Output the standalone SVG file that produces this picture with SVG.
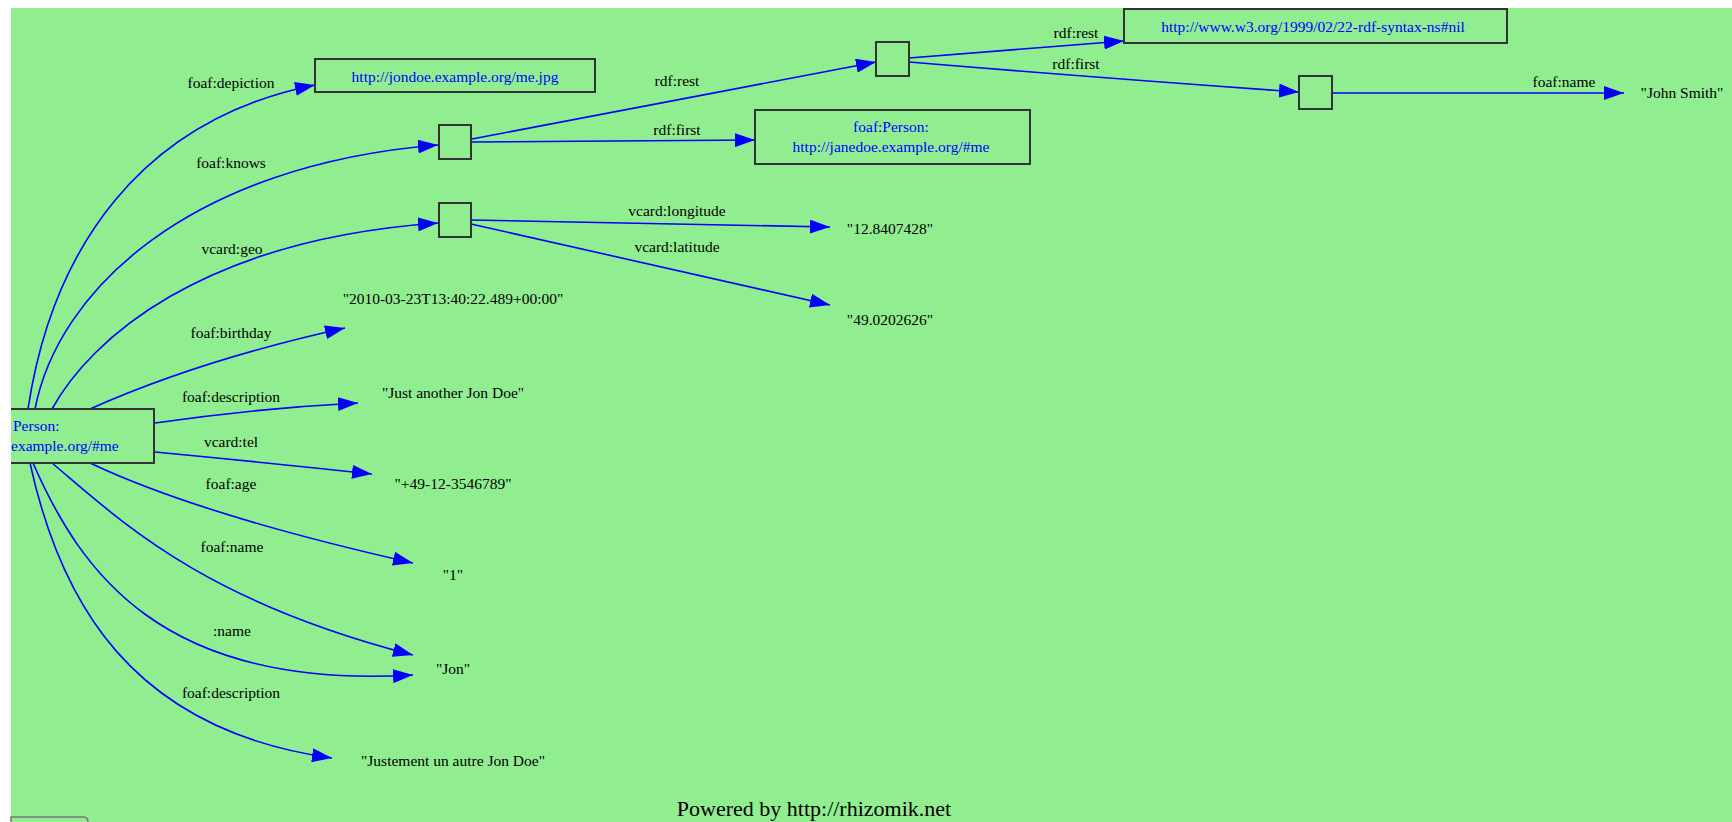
<svg xmlns="http://www.w3.org/2000/svg" width="1732" height="822" viewBox="0 0 1732 822">
<defs>
<marker id="ah" markerWidth="21" markerHeight="14" refX="20" refY="7" orient="auto" markerUnits="userSpaceOnUse"><path d="M0,0 L20,7 L0,14 z" fill="#0000ff"/></marker>
<style>
.e{fill:none;stroke:#0000ff;stroke-width:1.6;marker-end:url(#ah)}
.box{fill:none;stroke:#333;stroke-width:2}
text{font-family:"Liberation Serif","Times New Roman",serif;font-size:15.5px}
.lbl{fill:#000;text-anchor:middle}
.val{fill:#000;text-anchor:middle}
.uri{fill:#0000ff;text-anchor:middle}
</style>
</defs>
<rect x="0" y="0" width="1732" height="822" fill="#ffffff"/>
<rect x="11" y="8" width="1721" height="814" fill="#90ee90"/>
<path d="M11,822 V817 H83 Q88,817 88,822" fill="none" stroke="#777" stroke-width="1.5"/>

<g id="connectors">
<path class="e" d="M28,409 C52,250 140,120 315,85"/>
<path class="e" d="M35,409 C58,290 190,165 438,145"/>
<path class="e" d="M52,409 C90,340 200,240 438,223"/>
<path class="e" d="M90,409 Q200,360 345,328"/>
<path class="e" d="M155,423 Q260,408 358,403"/>
<path class="e" d="M155,452 Q260,462 372,474"/>
<path class="e" d="M90,463 Q200,515 413,563"/>
<path class="e" d="M52,463 C120,520 200,600 413,655"/>
<path class="e" d="M33,463 C80,570 160,690 413,675"/>
<path class="e" d="M30,463 C60,600 130,730 332,758"/>
<path class="e" d="M472,139 L876,62"/>
<path class="e" d="M472,142 L755,140"/>
<path class="e" d="M909,58 L1124,41"/>
<path class="e" d="M909,62 Q1100,78 1299,92"/>
<path class="e" d="M1332,93 L1624,93"/>
<path class="e" d="M471,220 L830,227"/>
<path class="e" d="M471,224 L830,305"/>
<text class="lbl" x="231" y="88">foaf:depiction</text>
<text class="lbl" x="231" y="168">foaf:knows</text>
<text class="lbl" x="232" y="254">vcard:geo</text>
<text class="lbl" x="231" y="338">foaf:birthday</text>
<text class="lbl" x="231" y="402">foaf:description</text>
<text class="lbl" x="231" y="447">vcard:tel</text>
<text class="lbl" x="231" y="489">foaf:age</text>
<text class="lbl" x="232" y="552">foaf:name</text>
<text class="lbl" x="232" y="636">:name</text>
<text class="lbl" x="231" y="698">foaf:description</text>
<text class="lbl" x="677" y="86">rdf:rest</text>
<text class="lbl" x="677" y="135">rdf:first</text>
<text class="lbl" x="1076" y="38">rdf:rest</text>
<text class="lbl" x="1076" y="69">rdf:first</text>
<text class="lbl" x="1564" y="87">foaf:name</text>
<text class="lbl" x="677" y="216">vcard:longitude</text>
<text class="lbl" x="677" y="252">vcard:latitude</text>
</g>

<g id="person">
<path class="box" d="M11,409 H154 V463 H11"/>
<text x="13" y="431" style="fill:#0000ff">Person:</text>
<text x="11" y="451" style="fill:#0000ff">example.org/#me</text>
</g>
<g id="depiction">
<rect class="box" x="315" y="59" width="280" height="33"/>
<text class="uri" x="455" y="82">http://jondoe.example.org/me.jpg</text>
</g>
<g id="blank1"><rect class="box" x="439" y="125" width="32" height="34"/></g>
<g id="blank2"><rect class="box" x="439" y="203" width="32" height="34"/></g>
<g id="blank3"><rect class="box" x="876" y="42" width="33" height="34"/></g>
<g id="blank4"><rect class="box" x="1299" y="76" width="33" height="33"/></g>
<g id="jane">
<rect class="box" x="755" y="110" width="275" height="54"/>
<text class="uri" x="891" y="132">foaf:Person:</text>
<text class="uri" x="891" y="152">http://janedoe.example.org/#me</text>
</g>
<g id="nil">
<rect class="box" x="1124" y="9" width="383" height="34"/>
<text class="uri" x="1313" y="32">http://www.w3.org/1999/02/22-rdf-syntax-ns#nil</text>
</g>
<g id="johnsmith"><text class="val" x="1682" y="98">"John Smith"</text></g>
<g id="lon"><text class="val" x="890" y="234">"12.8407428"</text></g>
<g id="lat"><text class="val" x="890" y="325">"49.0202626"</text></g>
<g id="birthday"><text class="val" x="453" y="304">"2010-03-23T13:40:22.489+00:00"</text></g>
<g id="desc1"><text class="val" x="453" y="398">"Just another Jon Doe"</text></g>
<g id="tel"><text class="val" x="453" y="489">"+49-12-3546789"</text></g>
<g id="age"><text class="val" x="453" y="580">"1"</text></g>
<g id="jon"><text class="val" x="453" y="674">"Jon"</text></g>
<g id="desc2"><text class="val" x="453" y="766">"Justement un autre Jon Doe"</text></g>
<text x="814" y="816" style="font-size:22px;text-anchor:middle;fill:#000">Powered by http://rhizomik.net</text>
</svg>
